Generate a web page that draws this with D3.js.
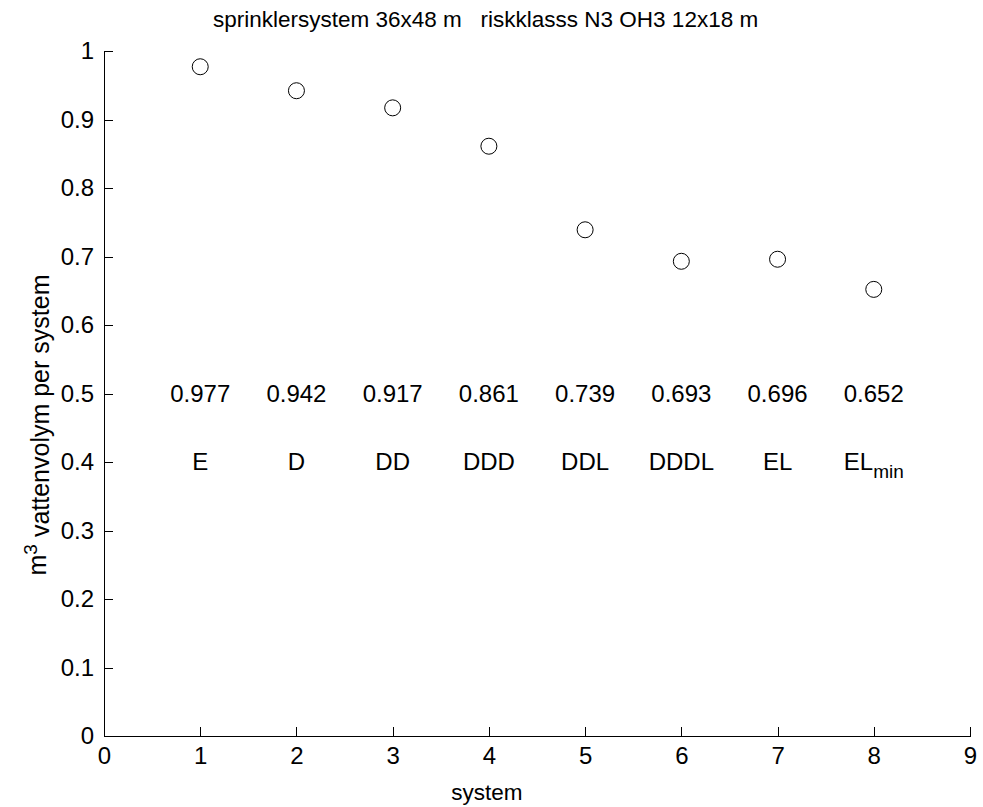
<!DOCTYPE html>
<html>
<head>
<meta charset="utf-8">
<script src="https://cdn.jsdelivr.net/npm/d3@7"></script>
<style>
  body { margin: 0; background: #fff; }
  svg text { font-family: "Liberation Sans", Arial, sans-serif; fill: #000; }
  .axis path, .axis line { stroke: #000; shape-rendering: crispEdges; }
</style>
</head>
<body>
<svg id="chart"></svg>
<script>
const systemNr = [1, 2, 3, 4, 5, 6, 7, 8];
const volym = [0.977, 0.942, 0.917, 0.861, 0.739, 0.693, 0.696, 0.652];
const namn = ["E", "D", "DD", "DDD", "DDL", "DDDL", "EL", "EL"];
const namnSub = ["", "", "", "", "", "", "", "min"];
const xTicks = [0, 1, 2, 3, 4, 5, 6, 7, 8, 9];
const yTicks = [0, 0.1, 0.2, 0.3, 0.4, 0.5, 0.6, 0.7, 0.8, 0.9, 1];

const width = 983;
const height = 807;
const fs = 24;
const fsLabel = 22.5;

const svg = d3.select("#chart").attr("width", width).attr("height", height);

const x = d3.scaleLinear().domain([0, 9]).range([104, 970]);
const y = d3.scaleLinear().domain([0, 1]).range([736, 51]);

// axlar
const xAxis = d3.axisBottom(x).tickValues(xTicks).tickFormat(d3.format("d"))
  .tickSizeInner(-9).tickSizeOuter(0).tickPadding(11);
const yAxis = d3.axisLeft(y).tickValues(yTicks).tickFormat(d => d === 0 || d === 1 ? d : d3.format(".1f")(d))
  .tickSizeInner(-9).tickSizeOuter(0).tickPadding(10);

svg.append("g").attr("class", "axis")
  .attr("transform", `translate(0,${y(0)})`)
  .call(xAxis)
  .selectAll("text").style("font-size", fs + "px").attr("dy", "0.72em");

svg.append("g").attr("class", "axis")
  .attr("transform", `translate(${x(0)},0)`)
  .call(yAxis)
  .selectAll("text").style("font-size", fs + "px");

// punkter
svg.selectAll("circle.pt")
  .data(systemNr)
  .enter()
  .append("circle")
  .attr("class", "pt")
  .attr("cx", d => x(d))
  .attr("cy", (d, i) => y(volym[i]))
  .attr("r", 8)
  .attr("fill", "none")
  .attr("stroke", "#000")
  .attr("stroke-width", 1);

// värden
svg.selectAll("text.val")
  .data(systemNr)
  .enter()
  .append("text")
  .attr("class", "val")
  .attr("x", d => x(d))
  .attr("y", y(0.5))
  .attr("dy", "0.35em")
  .attr("text-anchor", "middle")
  .style("font-size", fs + "px")
  .text((d, i) => volym[i].toFixed(3));

// namn
const nm = svg.selectAll("text.nm")
  .data(systemNr)
  .enter()
  .append("text")
  .attr("class", "nm")
  .attr("x", d => x(d))
  .attr("y", y(0.4))
  .attr("dy", "0.35em")
  .attr("text-anchor", "middle")
  .style("font-size", fs + "px");
nm.append("tspan").text((d, i) => namn[i]);
nm.filter((d, i) => namnSub[i] !== "")
  .append("tspan")
  .attr("dy", "0.4em")
  .style("font-size", "19px")
  .text(d => namnSub[systemNr.indexOf(d)]);

// titel och etiketter
svg.append("text")
  .attr("x", 213)
  .attr("y", 27)
  .style("font-size", fsLabel + "px")
  .attr("xml:space", "preserve")
  .text("sprinklersystem 36x48 m   riskklasss N3 OH3 12x18 m");

svg.append("text")
  .attr("x", 487)
  .attr("y", 800)
  .attr("text-anchor", "middle")
  .style("font-size", fsLabel + "px")
  .text("system");

const yl = svg.append("text")
  .attr("transform", `translate(46,425) rotate(-90)`)
  .attr("text-anchor", "middle")
  .style("font-size", "25px");
yl.append("tspan").text("m");
yl.append("tspan").attr("dy", "-0.45em").style("font-size", "19px").text("3");
yl.append("tspan").attr("dy", "0.45em").text(" vattenvolym per system");
</script>
</body>
</html>
